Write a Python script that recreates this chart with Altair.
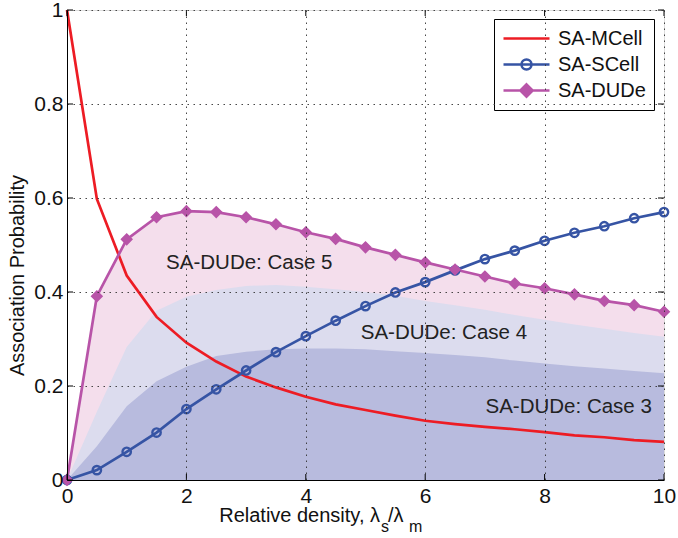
import altair as alt
import pandas as pd

# ---------------- data ----------------
density = [0, 0.5, 1, 1.5, 2, 2.5, 3, 3.5, 4, 4.5, 5, 5.5, 6, 6.5, 7, 7.5, 8, 8.5, 9, 9.5, 10]
sa_mcell = [1.0, 0.598, 0.435, 0.347, 0.292, 0.252, 0.220, 0.197, 0.177, 0.161, 0.149,
            0.137, 0.126, 0.119, 0.113, 0.108, 0.102, 0.095, 0.091, 0.085, 0.081]
sa_scell = [0.0, 0.021, 0.060, 0.101, 0.151, 0.193, 0.233, 0.272, 0.306, 0.339, 0.370,
            0.399, 0.421, 0.446, 0.470, 0.488, 0.509, 0.526, 0.540, 0.557, 0.570]
sa_dude = [0.0, 0.391, 0.512, 0.559, 0.572, 0.570, 0.559, 0.544, 0.527, 0.513, 0.495,
           0.479, 0.463, 0.448, 0.433, 0.418, 0.408, 0.395, 0.381, 0.372, 0.358]
case4 = [0.0, 0.145, 0.283, 0.360, 0.390, 0.404, 0.413, 0.415, 0.411, 0.406, 0.400,
         0.392, 0.381, 0.372, 0.362, 0.351, 0.341, 0.331, 0.322, 0.313, 0.305]
case3 = [0.0, 0.072, 0.157, 0.210, 0.241, 0.264, 0.273, 0.278, 0.280, 0.280, 0.278,
         0.274, 0.270, 0.266, 0.261, 0.254, 0.248, 0.242, 0.237, 0.232, 0.227]

series_names = ["SA-MCell", "SA-SCell", "SA-DUDe"]
series_colors = ["#ed1c24", "#3654a4", "#b854a8"]

case_labels = ["SA-DUDe: Case 5", "SA-DUDe: Case 4", "SA-DUDe: Case 3"]
case_label_x = [1.66, 4.92, 7.01]
case_label_y = [0.450, 0.299, 0.143]

tick_x = [0, 2, 4, 6, 8, 10]
tick_y = [0, 0.2, 0.4, 0.6, 0.8, 1]

# ---------------- tables ----------------
wide = pd.DataFrame({"x": density, "mcell": sa_mcell, "scell": sa_scell,
                     "dude": sa_dude, "c4": case4, "c3": case3})
long = pd.concat([
    pd.DataFrame({"x": density, "y": sa_mcell, "series": "SA-MCell"}),
    pd.DataFrame({"x": density, "y": sa_scell, "series": "SA-SCell"}),
    pd.DataFrame({"x": density, "y": sa_dude, "series": "SA-DUDe"}),
], ignore_index=True)
labels = pd.DataFrame({"x": case_label_x, "y": case_label_y, "t": case_labels})
xticks = pd.DataFrame({"v": tick_x})
yticks = pd.DataFrame({"v": tick_y})

FONT = "Liberation Sans"
FS = 20
TFS = 21
W, H = 597, 470

xs = alt.Scale(domain=[0, 10], nice=False, zero=False)
ys = alt.Scale(domain=[0, 1], nice=False)

x_axis = alt.Axis(values=tick_x, title=None, grid=True, tickSize=0, labelPadding=5,
                  format="~g", labelFontSize=TFS, labelFont=FONT, labelColor="#111",
                  labelFlush=False,
                  gridDash=[1.5, 4.5], gridColor="#333", gridOpacity=0.9,
                  domainColor="#000", zindex=1)
y_axis = alt.Axis(values=tick_y, title="Association Probability", format="~g",
                  grid=True, tickSize=0, labelPadding=4, labelFlush=False,
                  labelFontSize=TFS, labelFont=FONT, labelColor="#111",
                  gridDash=[1.5, 4.5], gridColor="#333", gridOpacity=0.9,
                  domainColor="#000", zindex=1,
                  titleFont=FONT, titleFontSize=FS, titleFontWeight="normal",
                  titleColor="#111", titleX=-50, titleY=265, titleAngle=-90,
                  titleAlign="center", titleBaseline="middle")

base = alt.Chart(wide)

area5 = base.mark_area(color="#f4deec", opacity=1).encode(
    x=alt.X("x:Q", scale=xs, axis=x_axis), y=alt.Y("dude:Q", scale=ys, axis=y_axis))
area4 = base.mark_area(color="#dcdcee", opacity=1).encode(x="x:Q", y="c4:Q")
area3 = base.mark_area(color="#b8bbde", opacity=1).encode(x="x:Q", y="c3:Q")

color_scale = alt.Scale(domain=series_names, range=series_colors)

leg_paths = [
    "M-1,0L3.6,0",
    "M-1,0L3.6,0M1.8,0A0.5,0.5 0 1,1 0.8,0A0.5,0.5 0 1,1 1.8,0",
    "M-1,0L3.6,0M1.3,-0.62L1.92,0L1.3,0.62L0.68,0ZM1.3,-0.3L1.6,0L1.3,0.3L1,0Z",
]
shape_scale = alt.Scale(domain=series_names, range=leg_paths)

legend = alt.Legend(title=None, orient="none", legendX=427, legendY=9,
                    strokeColor="#000", fillColor="#fff", padding=8,
                    symbolSize=400, symbolStrokeWidth=2.5, symbolFillColor="transparent",
                    labelFont=FONT, labelFontSize=FS, labelColor="#111",
                    labelOffset=33, rowPadding=4, symbolOpacity=1)

lines = alt.Chart(long).mark_line(strokeWidth=2.7).encode(
    x="x:Q", y="y:Q",
    color=alt.Color("series:N", scale=color_scale, legend=legend),
    detail="series:N")

legend_layer = alt.Chart(long).transform_filter("false").mark_point(
    filled=False, strokeWidth=2.5).encode(
    x="x:Q", y="y:Q",
    color=alt.Color("series:N", scale=color_scale, legend=legend),
    shape=alt.Shape("series:N", scale=shape_scale, legend=legend))

circles = alt.Chart(wide).mark_point(shape="circle", filled=False, size=70,
                                     strokeWidth=2.4, color="#3654a4", opacity=1).encode(
    x="x:Q", y="scell:Q")
diamonds = alt.Chart(wide).mark_point(shape="diamond", filled=True, size=110,
                                      color="#b854a8", stroke="#b854a8", strokeWidth=1.5,
                                      opacity=1).encode(
    x="x:Q", y="dude:Q")

case_text = alt.Chart(labels).mark_text(align="left", baseline="alphabetic",
                                        font=FONT, fontSize=20.5, color="#222").encode(
    x="x:Q", y="y:Q", text="t:N")

# inward ticks on all four sides (MATLAB box style)
tick_style = dict(color="#000", strokeWidth=1)
xt_bottom = alt.Chart(xticks).mark_rule(**tick_style).encode(
    x="v:Q", y=alt.value(H), y2=alt.value(H - 6))
xt_top = alt.Chart(xticks).mark_rule(**tick_style).encode(
    x="v:Q", y=alt.value(0), y2=alt.value(6))
yt_left = alt.Chart(yticks).mark_rule(**tick_style).encode(
    y="v:Q", x=alt.value(0), x2=alt.value(6))
yt_right = alt.Chart(yticks).mark_rule(**tick_style).encode(
    y="v:Q", x=alt.value(W), x2=alt.value(W - 6))

one = labels.head(1)
title_main = alt.Chart(one).mark_text(
    align="right", baseline="alphabetic", font=FONT, fontSize=FS, color="#111").encode(
    x=alt.value(313), y=alt.value(512), text=alt.value("Relative density, λ"))
title_s = alt.Chart(one).mark_text(
    align="left", baseline="alphabetic", font=FONT, fontSize=16, color="#111").encode(
    x=alt.value(314), y=alt.value(522), text=alt.value("s"))
title_slash = alt.Chart(one).mark_text(
    align="left", baseline="alphabetic", font=FONT, fontSize=FS, color="#111").encode(
    x=alt.value(321), y=alt.value(512), text=alt.value("/λ"))
title_m = alt.Chart(one).mark_text(
    align="left", baseline="alphabetic", font=FONT, fontSize=16, color="#111").encode(
    x=alt.value(342), y=alt.value(522), text=alt.value("m"))

chart = alt.layer(
    area5, area4, area3, lines, circles, diamonds, legend_layer, case_text,
    xt_bottom, xt_top, yt_left, yt_right,
    title_main, title_s, title_slash, title_m
).properties(
    width=W, height=H, autosize="none",
    padding={"left": 67, "top": 10, "right": 14, "bottom": 58},
).configure_view(stroke="#000", strokeWidth=1).configure(background="white")

chart.save("out.html", embed_options={"renderer": "svg", "actions": False})
